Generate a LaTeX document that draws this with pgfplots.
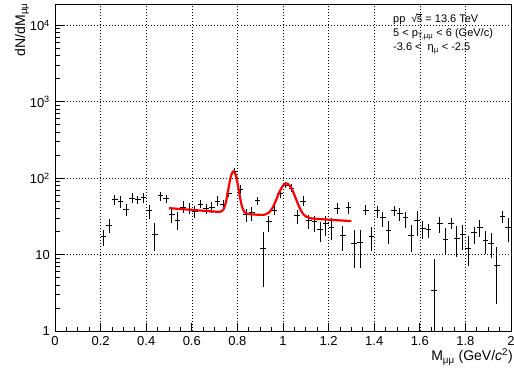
\documentclass[border=0pt]{standalone}
\usepackage{pgfplots}
\pgfplotsset{compat=1.18}
\usepackage{pgfplotstable}
\usepackage{fontspec}
\setmainfont{Liberation Sans}

% dimuon invariant-mass spectrum, 25 MeV bins: centre, counts, upper/lower error
\pgfplotstableread{
x y ep em
0.2125 17.3 3.6 4.3
0.2375 23.8 5.3 4.7
0.2625 52.1 7.9 7.7
0.2875 49.5 8.2 9.3
0.3125 38.5 7.2 6.9
0.3375 54.8 8.3 7.7
0.3625 52.1 6.6 6.4
0.3875 55.3 8.4 8.2
0.4125 37.8 7.0 8.7
0.4375 18.2 7.6 7.0
0.4625 58.7 7.5 8.2
0.4875 54.2 6.3 7.1
0.5125 33.8 6.4 8.0
0.5375 28.0 7.6 7.3
0.5625 41.4 8.1 6.6
0.5875 39.4 7.3 5.6
0.6125 36.3 6.4 6.6
0.6375 45.7 6.3 5.5
0.6625 40.2 5.5 6.4
0.6875 41.4 6.7 6.6
0.7125 49.5 8.2 6.8
0.7375 44.8 7.2 6.6
0.7625 63.7 8.1 7.7
0.7875 123.5 10.5 10.8
0.8125 71.8 9.1 10.0
0.8375 33.8 5.6 7.4
0.8625 35.6 5.8 7.9
0.8875 50.5 6.5 6.1
0.9125 12.1 7.8 8.3
0.9375 26.9 5.2 7.4
0.9625 38.2 5.2 5.4
0.9875 63.1 10.2 8.8
1.0125 80.9 8.6 7.6
1.0375 74.0 9.6 7.8
1.0625 32.8 6.0 8.0
1.0875 49.5 8.2 6.8
1.1125 27.7 5.1 6.2
1.1375 26.9 4.7 7.0
1.1625 21.1 5.8 6.7
1.1875 25.6 6.5 8.0
1.2125 22.7 7.0 7.2
1.2375 40.2 6.9 6.4
1.2625 17.6 6.2 6.4
1.2875 41.4 6.7 7.6
1.3125 14.0 7.1 7.4
1.3375 14.4 6.7 7.8
1.3625 38.2 6.2 5.4
1.3875 17.3 5.4 6.1
1.4125 37.4 6.0 7.7
1.4375 30.6 5.7 7.9
1.4625 20.5 7.2 6.8
1.4875 37.4 6.0 5.8
1.5125 34.8 5.4 7.1
1.5375 30.6 5.7 8.6
1.5625 17.6 6.7 6.7
1.5875 27.7 9.0 10.1
1.6125 22.2 5.5 6.2
1.6375 21.1 4.0 4.8
1.6625 3.43 5.3 2.45
1.6875 25.8 4.8 6.7
1.7125 16.0 6.0 5.8
1.7375 25.6 4.1 4.1
1.7625 16.3 7.1 6.9
1.7875 18.2 6.3 6.6
1.8125 12.2 5.1 5.2
1.8375 19.5 3.6 5.8
1.8625 22.7 5.8 5.9
1.8875 15.1 5.0 4.9
1.9125 14.1 4.8 5.1
1.9375 7.3 5.1 5.05
1.9625 31.2 5.5 5.6
1.9875 22.4 7.3 8.0
}\spectrum

% fitted omega + phi peaks on a smooth background
\pgfplotstableread{
x f
0.50 40.51
0.52 40.09
0.54 39.67
0.56 39.26
0.58 38.86
0.60 38.46
0.62 38.06
0.64 37.67
0.66 37.28
0.68 36.90
0.70 36.52
0.71 36.34
0.72 36.23
0.73 36.64
0.74 39.37
0.75 48.96
0.755 58.2
0.76 70.61
0.765 85.52
0.77 100.93
0.775 113.94
0.78 121.65
0.783 123.0
0.785 122.36
0.79 115.68
0.795 103.39
0.80 88.1
0.805 72.71
0.81 59.42
0.815 49.4
0.82 42.59
0.83 36.11
0.84 34.33
0.85 33.88
0.86 33.67
0.88 33.34
0.90 33.09
0.92 33.33
0.94 35.81
0.95 39.06
0.96 44.37
0.97 51.97
0.98 61.42
0.99 71.37
1.00 79.80
1.01 84.62
1.015 85.19
1.02 84.47
1.03 79.35
1.04 70.62
1.05 60.36
1.06 50.62
1.07 42.71
1.08 37.10
1.09 33.56
1.10 31.55
1.12 29.93
1.14 29.44
1.16 29.14
1.18 28.87
1.20 28.62
1.22 28.36
1.24 28.11
1.26 27.87
1.28 27.63
1.30 27.39
}\fitcurve

\begin{document}
\begin{tikzpicture}
\path[use as bounding box] (0pt,0pt) rectangle (514pt,369pt);
\begin{axis}[
  at={(55pt,38pt)}, anchor=south west,
  scale only axis, width=456pt, height=327pt,
  xmin=0, xmax=2,
  ymode=log, ymin=1, ymax=1.9e4,
  axis line style={black, line width=0.9pt},
  tick align=inside, tick pos=left,
  major tick length=8.5pt, minor tick length=4.5pt,
  every tick/.style={black, line width=0.8pt},
  xtick={0,0.2,0.4,0.6,0.8,1,1.2,1.4,1.6,1.8,2},
  xticklabels={0,0.2,0.4,0.6,0.8,1,1.2,1.4,1.6,1.8,2},
  minor x tick num=3,
  ytick={1,10,100,1000,10000},
  yticklabels={1,10,10\textsuperscript{2},10\textsuperscript{3},10\textsuperscript{4}},
  minor ytick={2,3,4,5,6,7,8,9,20,30,40,50,60,70,80,90,200,300,400,500,600,700,800,900,2000,3000,4000,5000,6000,7000,8000,9000},
  xticklabel style={font=\fontsize{13}{15}\selectfont, anchor=north, inner sep=0pt, yshift=-5pt},
  yticklabel style={font=\fontsize{13}{15}\selectfont, anchor=east, inner sep=0pt, xshift=-5pt},
  grid=major,
  major grid style={black, line width=0.5pt, dash pattern=on 1pt off 2pt},
  clip=true,
]
% bin-width horizontal bars and vertical error bars, no marker
\addplot[draw=none, mark=none,
  error bars/.cd, x dir=both, x fixed=0.0125, y dir=both, y explicit,
  error mark=none, error bar style={draw=black, line width=0.9pt}]
  table[x=x, y=y, y error plus=ep, y error minus=em] {\spectrum};
\addplot[red, line width=2.2pt, smooth, line join=round] table[x=x, y=f] {\fitcurve};
\end{axis}

% axis titles
\node[anchor=base east, inner sep=0pt, font=\fontsize{14}{16}\selectfont]
  at (513pt,8pt) {M\textsubscript{μμ} (GeV/\textit{c}\textsuperscript{2})};
\node[anchor=base east, inner sep=0pt, rotate=90, font=\fontsize{14}{16}\selectfont]
  at (25pt,366pt) {dN/dM\textsubscript{μμ}};

% collision system and kinematic selection
\begin{scope}[every node/.style={anchor=base west, inner sep=0pt, font=\fontsize{11}{13}\selectfont}]
\node at (393pt,346.3pt) {pp\hspace{6pt}√\kern-0.6pt\rlap{\rule[8.6pt]{5.6pt}{0.5pt}}s = 13.6 TeV};
\node at (393pt,332pt) {5 < p\textsubscript{T,μμ} < 6 (GeV/c)};
\node at (393pt,318.3pt) {-3.6 < \hspace{3pt}η\textsubscript{μ} < -2.5};
\end{scope}
\end{tikzpicture}
\end{document}
